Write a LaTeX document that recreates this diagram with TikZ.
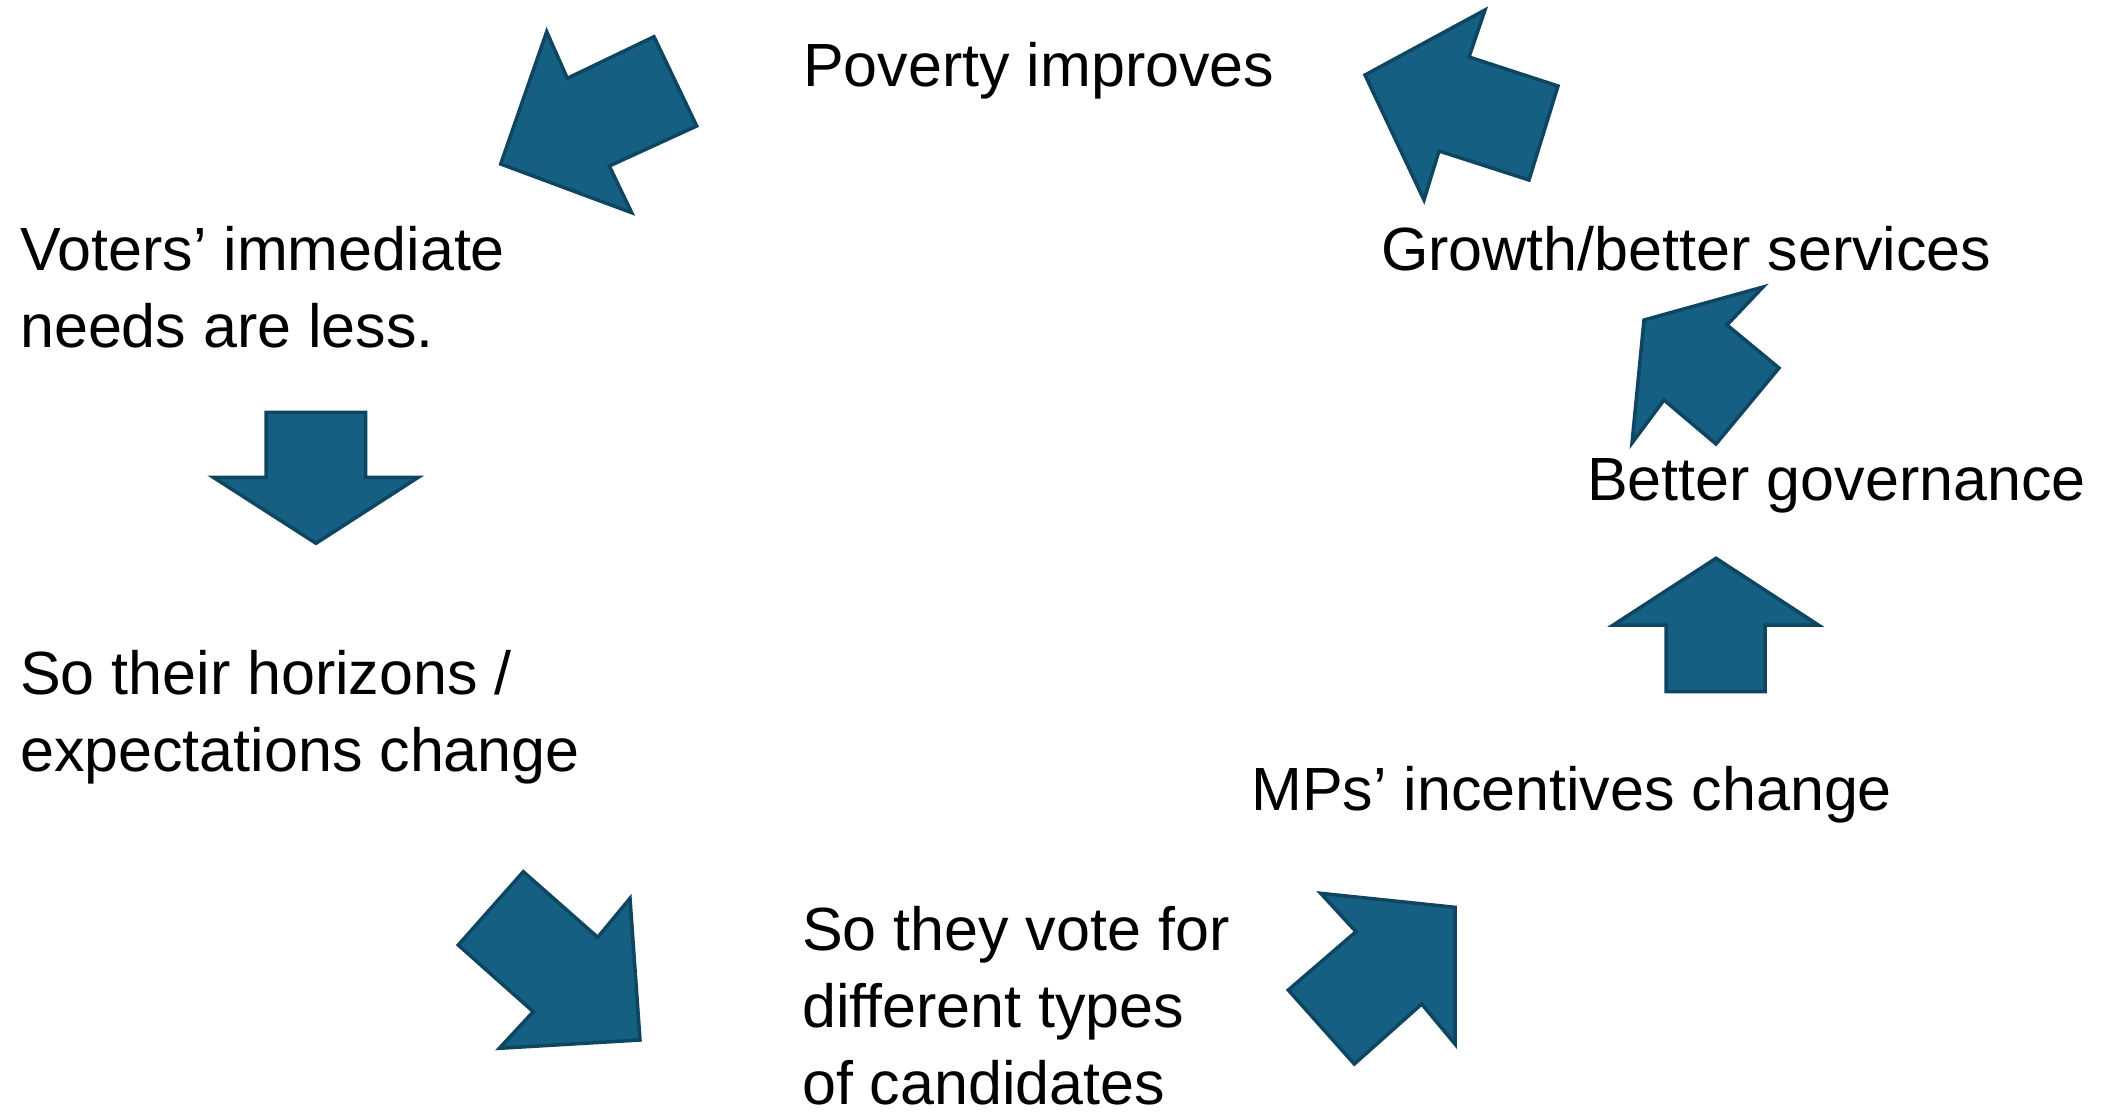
\documentclass[tikz,border=0pt]{standalone}
\usepackage{fontspec}
\setmainfont{Liberation Sans}
\definecolor{arrowfill}{HTML}{156082}
\definecolor{arrowline}{HTML}{0E4661}
\begin{document}
\begin{tikzpicture}[x=1pt,y=-1pt,
  blockarrow/.style={fill=arrowfill,draw=arrowline,line width=3.5pt,line join=miter},
  lbl/.style={anchor=base west,inner sep=0pt,align=left,font=\fontsize{61}{77}\selectfont}]
\useasboundingbox[fill=white] (0,0) rectangle (2118,1114);
% texts (anchor at baseline of the last line)
\node[lbl] (pov) at (803,86) {Poverty improves};
\node[lbl] (vot) at (20,347) {Voters’ immediate\\needs are less.};
\node[lbl] (hor) at (20,771) {So their horizons /\\expectations change};
\node[lbl] (cand) at (802,1104) {So they vote for\\different types\\of candidates};
\node[lbl] (mps) at (1251,810) {MPs’ incentives change};
\node[lbl] (gov) at (1587,500) {Better governance};
\node[lbl] (gro) at (1381,270) {Growth/better services};
% block arrows
\draw[blockarrow] (546.7,31.7) -- (567.3,78.3) -- (654,36.7) -- (696.7,126) -- (609.3,166) -- (631.7,212.7) -- (500.7,164) -- cycle;
\draw[blockarrow] (266,412.3) -- (365.7,412.3) -- (365.7,477.3) -- (418.3,477.3) -- (316,543.3) -- (213.3,477.3) -- (266,477.3) -- cycle;
\draw[blockarrow] (523.3,871.7) -- (597.7,937.3) -- (630,898.3) -- (640,1040) -- (499.3,1048.3) -- (533.3,1011.7) -- (458.3,945) -- cycle;
\draw[blockarrow] (1320.7,893.3) -- (1455,907.3) -- (1455,1044) -- (1421.7,1004) -- (1354.3,1064) -- (1288.3,990) -- (1356,931.7) -- cycle;
\draw[blockarrow] (1716,558.3) -- (1818.3,625) -- (1765,625) -- (1765,691.7) -- (1666,691.7) -- (1666,625) -- (1613.3,625) -- cycle;
\draw[blockarrow] (1763,287) -- (1727,325) -- (1779,368) -- (1716,444) -- (1664,400) -- (1632,443) -- (1644,320) -- cycle;
\draw[blockarrow] (1485,10) -- (1469,57) -- (1558,86) -- (1529,180) -- (1439,151) -- (1424,200) -- (1365,75) -- cycle;
\end{tikzpicture}
\end{document}
